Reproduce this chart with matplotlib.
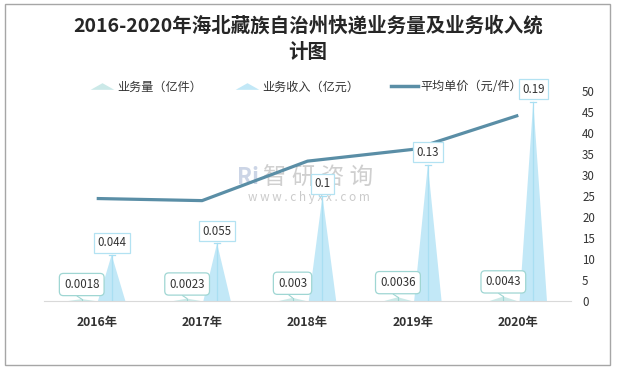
import matplotlib
matplotlib.use("Agg")
import matplotlib.pyplot as plt
from matplotlib.lines import Line2D
from matplotlib.path import Path
from matplotlib.patches import Rectangle

plt.rcParams['font.family'] = ['Noto Sans CJK SC', 'DejaVu Sans']

years = ['2016年', '2017年', '2018年', '2019年', '2020年']
volume = [0.0018, 0.0023, 0.003, 0.0036, 0.0043]      # 业务量（亿件）
revenue = [0.044, 0.055, 0.1, 0.13, 0.19]             # 业务收入（亿元）
price = [24.4, 23.9, 33.3, 36.1, 44.2]                # 平均单价（元/件）
vol_labels = ['0.0018', '0.0023', '0.003', '0.0036', '0.0043']
rev_labels = ['0.044', '0.055', '0.1', '0.13', '0.19']
right_ticks = [0, 5, 10, 15, 20, 25, 30, 35, 40, 45, 50]

vol_color = '#cbe9e8'
rev_color = '#c2e8f7'
line_color = '#5a8ea6'
vol_edge = '#9fd6d3'
rev_edge = '#b3e2f2'
text_color = '#333333'

fig = plt.figure(figsize=(6.17, 3.69), dpi=100)
fig.patches.append(Rectangle((5/617, 4/369), 605/617, 361/369, transform=fig.transFigure,
                             fill=False, edgecolor='#a6a6a6', linewidth=1.0))

ax = fig.add_axes([44/617, 68/369, 527/617, 210/369])
ax2 = ax.twinx()

off = 0.142
w = 0.26
for i in range(len(years)):
    xv = i - off
    ax.fill([xv - w/2, xv, xv + w/2], [0, volume[i], 0], color=vol_color, lw=0, zorder=2)
    xr = i + off
    ax.fill([xr - w/2, xr, xr + w/2], [0, revenue[i], 0], color=rev_color, lw=0, zorder=2)
    ax.plot([xr, xr], [0, revenue[i]], color='#a9dff2', lw=0.9, zorder=3)
    ax.plot([xr - 0.03, xr + 0.03], [revenue[i], revenue[i]], color='#a9dff2', lw=0.9, zorder=3)
    ax.annotate(rev_labels[i], (xr, revenue[i]), xytext=(0, 8.8), textcoords='offset points',
                ha='center', va='center', fontsize=8.3, color=text_color, zorder=6,
                bbox=dict(boxstyle='square,pad=0.3', fc='white', ec=rev_edge, lw=0.9))
    ax.plot([xv, xv], [0, volume[i]], color=vol_edge, lw=0.8, zorder=3)
    ax.annotate(vol_labels[i], (xv, volume[i]), xytext=(0, 10.5), textcoords='offset points',
                ha='center', va='center', fontsize=8.3, color=text_color, zorder=6,
                bbox=dict(boxstyle='round,pad=0.4,rounding_size=0.35', fc='white', ec=vol_edge, lw=0.9),
                arrowprops=dict(arrowstyle='-', color=vol_edge, lw=0.8,
                                shrinkA=0, shrinkB=0, relpos=(0.15, 0.0)))

ax2.plot(range(len(years)), price, color=line_color, lw=2.3, zorder=5, solid_capstyle='butt')

ax.set_xlim(-0.5, len(years) - 0.5)
ax.set_ylim(0, 0.2)
ax2.set_ylim(0, 50)
ax.set_yticks([])
ax2.set_yticks(right_ticks)
ax2.set_yticklabels([str(t) for t in right_ticks], fontsize=8.3, color=text_color)
ax2.tick_params(axis='y', length=0, pad=8)
ax.set_xticks(range(len(years)))
ax.set_xticklabels(years, fontsize=8.8, fontweight='bold', color=text_color)
ax.tick_params(axis='x', length=0, pad=11)
for a in (ax, ax2):
    for s in ['top', 'left', 'right']:
        a.spines[s].set_visible(False)
    a.spines['bottom'].set_color('#d9d9d9')
ax2.spines['bottom'].set_visible(False)
ax.set_zorder(2)
ax2.set_zorder(1)
ax.patch.set_visible(False)

# watermark
fig.text(318/617, (369-178)/369, '智 研 咨 询', fontsize=17, color='#a0a0a0', alpha=0.5,
         ha='center', va='center', zorder=0)
fig.text(248/617, (369-178)/369, 'Ri', fontsize=16, color='#8fa3c8', alpha=0.45,
         ha='center', va='center', fontweight='bold', zorder=0)
fig.text(309/617, (369-198)/369, 'w w w . c h y x x . c o m', fontsize=8.5, color='#a0a0a0',
         alpha=0.55, ha='center', va='center', zorder=0)

tri = Path([(-1.6, -0.45), (0, 0.45), (1.6, -0.45), (-1.6, -0.45)],
           [Path.MOVETO, Path.LINETO, Path.LINETO, Path.CLOSEPOLY])
handles = [
    Line2D([], [], marker=tri, linestyle='none', markersize=17, markerfacecolor=vol_color,
           markeredgewidth=0, label='业务量（亿件）'),
    Line2D([], [], marker=tri, linestyle='none', markersize=17, markerfacecolor=rev_color,
           markeredgewidth=0, label='业务收入（亿元）'),
    Line2D([], [], color=line_color, lw=2.5, label='平均单价（元/件）'),
]
fig.legend(handles=handles, loc='center', bbox_to_anchor=(305/617, (369-87)/369), ncol=3,
           frameon=False, fontsize=8.7, handlelength=2.2, handletextpad=0.2, columnspacing=2.6,
           labelcolor=text_color)

fig.text(308/617, (369-39)/369, '2016-2020年海北藏族自治州快递业务量及业务收入统\n计图',
         ha='center', va='center', fontsize=14, fontweight='bold', color='#262626',
         linespacing=1.55)

fig.savefig('out.png', dpi=100)
